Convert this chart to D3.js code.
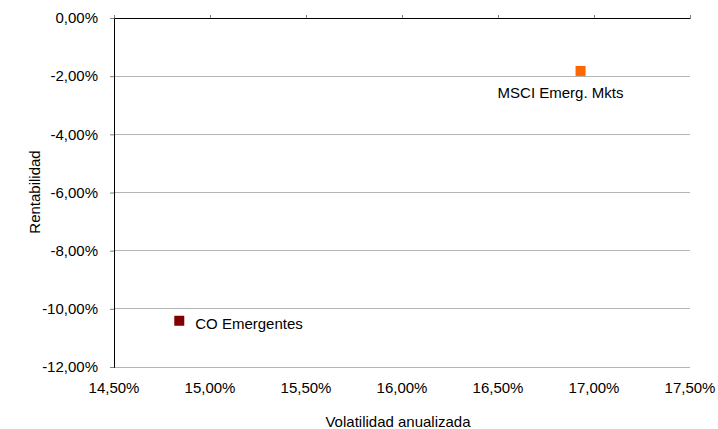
<!DOCTYPE html>
<html><head><meta charset="utf-8">
<script src="https://cdn.jsdelivr.net/npm/d3@7"></script>
<style>body{margin:0;background:#fff}svg{display:block}text{font-family:"Liberation Sans",Arial,sans-serif;fill:#000}</style>
</head><body><svg id="c" width="718" height="429"></svg>
<script>
const names = ["MSCI Emerg. Mkts", "CO Emergentes"];
const volatility = [16.93, 14.84];
const returns = [-1.82, -10.41];
const colors = ["#FF6600", "#800000"];
const xTicks = [14.5, 15, 15.5, 16, 16.5, 17, 17.5];
const yTicks = [0, -2, -4, -6, -8, -10, -12];

const svg = d3.select("#c");
const L = 114, R = 690, T = 18, B = 367;
const FS = 15;
const x = d3.scaleLinear().domain([14.5, 17.5]).range([L, R]);
const y = d3.scaleLinear().domain([-12, 0]).range([B, T]);
const fmt = v => v.toFixed(2).replace(".", ",") + "%";

// gridlines
svg.append("g").selectAll("line").data(yTicks.filter(d => d !== 0)).join("line")
  .attr("x1", L).attr("x2", R).attr("y1", d => y(d)).attr("y2", d => y(d))
  .attr("stroke", "#b4b4b4").attr("stroke-width", 1).attr("shape-rendering", "crispEdges");

// y axis
const ya = svg.append("g").attr("transform", `translate(${L},0)`)
  .call(d3.axisLeft(y).tickValues(yTicks).tickFormat(fmt).tickSize(4).tickPadding(12));
ya.select(".domain").attr("stroke", "#000");
ya.selectAll(".tick line").attr("stroke", "#808080");
ya.selectAll("text").attr("font-size", FS).style("font-family", '"Liberation Sans",Arial,sans-serif');

// x axis at top (crosses at 0)
const xa = svg.append("g").attr("transform", `translate(0,${T})`)
  .call(d3.axisTop(x).tickValues(xTicks).tickFormat("").tickSize(3).tickSizeOuter(0));
xa.select(".domain").attr("stroke", "#000");
xa.selectAll(".tick line").attr("stroke", "#808080");

// x tick labels at bottom
svg.append("g").selectAll("text").data(xTicks).join("text")
  .attr("x", d => x(d)).attr("y", 393).attr("text-anchor", "middle")
  .attr("font-size", FS).text(fmt);

// points
svg.append("g").selectAll("rect").data(names).join("rect")
  .attr("x", (d, i) => x(volatility[i]) - 5).attr("y", (d, i) => y(returns[i]) - 5)
  .attr("width", 10).attr("height", 10).attr("fill", (d, i) => colors[i]);

// labels
const lab = [{dx: -83, dy: 27}, {dx: 16, dy: 8}];
svg.append("g").selectAll("text").data(names).join("text")
  .attr("x", (d, i) => x(volatility[i]) + lab[i].dx)
  .attr("y", (d, i) => y(returns[i]) + lab[i].dy)
  .attr("font-size", FS).text(d => d);

// axis titles
svg.append("text").attr("x", 398).attr("y", 427).attr("text-anchor", "middle")
  .attr("font-size", FS).text("Volatilidad anualizada");
svg.append("text").attr("transform", "translate(40,192) rotate(-90)").attr("text-anchor", "middle")
  .attr("font-size", FS).text("Rentabilidad");
</script></body></html>
